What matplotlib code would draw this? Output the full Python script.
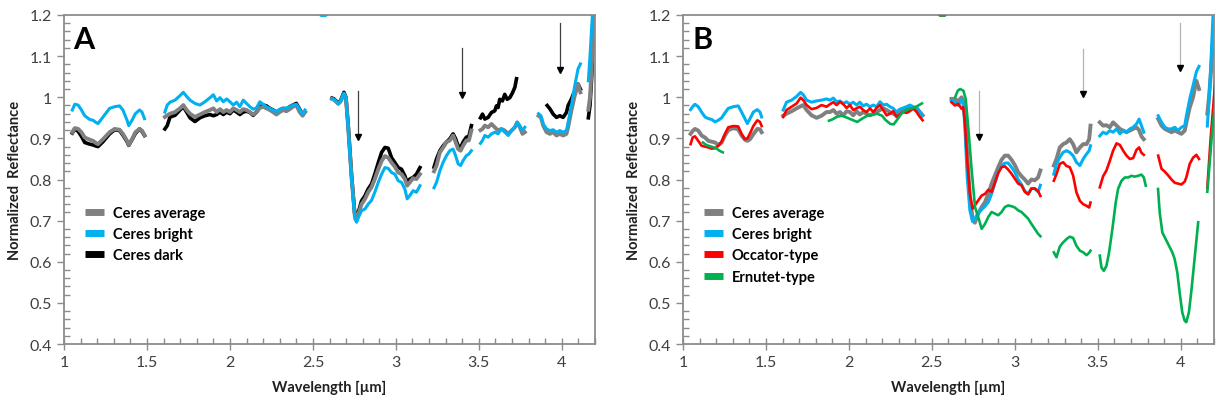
import matplotlib.pyplot as plt
from matplotlib.ticker import MultipleLocator, FormatStrFormatter

plt.rcParams['font.family'] = ['Lato', 'DejaVu Sans']

# ---------------- panel A : Ceres average / bright / dark ----------------
wl_a1 = [1.05, 1.065, 1.085, 1.105, 1.125, 1.155, 1.175, 1.195, 1.205, 1.235, 1.275,
         1.305, 1.335, 1.355, 1.38, 1.39, 1.41, 1.43, 1.455, 1.47, 1.485]
bright_a1 = [0.969, 0.983, 0.981, 0.969, 0.955, 0.946, 0.944, 0.938, 0.936, 0.952, 0.973,
             0.977, 0.979, 0.969, 0.944, 0.931, 0.944, 0.960, 0.969, 0.964, 0.948]
avg_a1 = [0.915, 0.925, 0.923, 0.915, 0.902, 0.897, 0.894, 0.888, 0.886, 0.898, 0.915,
          0.923, 0.921, 0.911, 0.894, 0.884, 0.898, 0.915, 0.923, 0.919, 0.908]
dark_a1 = [0.913, 0.923, 0.917, 0.905, 0.890, 0.886, 0.884, 0.881, 0.880, 0.892, 0.911,
           0.921, 0.919, 0.908, 0.892, 0.883, 0.897, 0.912, 0.923, 0.917, 0.907]

wl_a2 = [1.608, 1.622, 1.639, 1.669, 1.699, 1.719, 1.739, 1.759, 1.789, 1.819, 1.849,
         1.88, 1.9, 1.92, 1.94, 1.96, 1.98, 2.0, 2.02, 2.04, 2.06, 2.08, 2.1, 2.12, 2.14,
         2.16, 2.18, 2.2, 2.22, 2.24, 2.26, 2.28, 2.3, 2.32, 2.34, 2.36, 2.38, 2.4, 2.42,
         2.438, 2.452]
bright_a2 = [0.964, 0.981, 0.988, 0.993, 1.004, 1.012, 1.002, 0.993, 0.985, 0.981, 0.989,
             0.999, 1.006, 0.991, 0.999, 0.989, 0.996, 0.989, 0.981, 0.988, 0.977, 0.993,
             0.985, 0.977, 0.971, 0.974, 0.989, 0.983, 0.977, 0.973, 0.969, 0.964, 0.971,
             0.973, 0.974, 0.977, 0.981, 0.983, 0.971, 0.958, 0.969]
avg_a2 = [0.952, 0.956, 0.960, 0.964, 0.973, 0.981, 0.969, 0.960, 0.952, 0.958, 0.964,
          0.969, 0.973, 0.964, 0.971, 0.964, 0.969, 0.964, 0.973, 0.969, 0.964, 0.971,
          0.969, 0.964, 0.958, 0.964, 0.974, 0.977, 0.973, 0.969, 0.964, 0.958, 0.964,
          0.969, 0.966, 0.971, 0.977, 0.981, 0.964, 0.955, 0.964]
dark_a2 = [0.923, 0.931, 0.952, 0.956, 0.969, 0.977, 0.964, 0.950, 0.941, 0.950, 0.955,
           0.958, 0.955, 0.958, 0.964, 0.958, 0.964, 0.960, 0.969, 0.964, 0.958, 0.964,
           0.966, 0.963, 0.956, 0.964, 0.976, 0.981, 0.979, 0.973, 0.969, 0.964, 0.969,
           0.973, 0.971, 0.977, 0.981, 0.985, 0.971, 0.958, 0.964]

wl_a3 = [2.615, 2.627, 2.653, 2.667, 2.687, 2.699, 2.713, 2.733, 2.753, 2.763, 2.779,
         2.793, 2.813, 2.833, 2.853, 2.873, 2.894, 2.914, 2.934, 2.954, 2.974, 2.994,
         3.014, 3.034, 3.054, 3.068, 3.084, 3.104, 3.124, 3.145]
bright_a3 = [0.996, 0.994, 0.984, 0.990, 1.010, 1.0, 0.923, 0.801, 0.704, 0.696, 0.712,
             0.724, 0.728, 0.740, 0.749, 0.769, 0.793, 0.813, 0.829, 0.827, 0.817, 0.813,
             0.797, 0.793, 0.777, 0.753, 0.761, 0.773, 0.769, 0.785]
avg_a3 = [0.996, 0.994, 0.984, 0.990, 1.008, 0.998, 0.925, 0.805, 0.71, 0.705, 0.722,
          0.74, 0.752, 0.769, 0.781, 0.801, 0.825, 0.845, 0.857, 0.853, 0.841, 0.831,
          0.817, 0.813, 0.801, 0.785, 0.793, 0.803, 0.801, 0.813]
dark_a3 = [0.998, 0.996, 0.986, 0.992, 1.012, 1.0, 0.93, 0.81, 0.712, 0.71, 0.728,
           0.748, 0.76, 0.777, 0.789, 0.813, 0.841, 0.866, 0.878, 0.876, 0.853, 0.841,
           0.829, 0.825, 0.809, 0.793, 0.801, 0.805, 0.813, 0.829]

wl_a4 = [3.23, 3.245, 3.265, 3.285, 3.305, 3.325, 3.345, 3.36, 3.375, 3.39, 3.405,
         3.425, 3.44, 3.455]
bright_a4 = [0.78, 0.793, 0.821, 0.842, 0.858, 0.87, 0.874, 0.858, 0.838, 0.834, 0.846,
             0.858, 0.862, 0.87]
avg_a4 = [0.82, 0.834, 0.866, 0.878, 0.891, 0.895, 0.907, 0.891, 0.874, 0.870, 0.882,
          0.895, 0.895, 0.919]
dark_a4 = [0.83, 0.85, 0.87, 0.882, 0.891, 0.899, 0.911, 0.899, 0.882, 0.878, 0.891,
           0.903, 0.905, 0.931]

wl_a5 = [3.51, 3.522, 3.536, 3.556, 3.576, 3.596, 3.616, 3.636, 3.656, 3.677, 3.697,
         3.717, 3.731, 3.747, 3.763, 3.777]
bright_a5 = [0.888, 0.895, 0.907, 0.903, 0.911, 0.915, 0.911, 0.923, 0.915, 0.907, 0.919,
             0.927, 0.939, 0.931, 0.919, 0.927]
avg_a5 = [0.92, 0.923, 0.931, 0.927, 0.935, 0.927, 0.919, 0.923, 0.919, 0.911, 0.919,
          0.927, 0.939, 0.927, 0.911, 0.915]
wl_dark_a5 = [3.51, 3.522, 3.536, 3.556, 3.576, 3.596, 3.606, 3.616, 3.626, 3.642, 3.656,
              3.671, 3.687, 3.703, 3.717, 3.727]
dark_a5 = [0.95, 0.959, 0.947, 0.951, 0.963, 0.967, 0.979, 0.975, 0.995, 0.991, 1.007,
           0.995, 0.999, 1.011, 1.024, 1.045]

wl_a6 = [3.86, 3.874, 3.888, 3.908, 3.928, 3.948, 3.968, 3.988, 4.008, 4.028, 4.038,
         4.058, 4.078, 4.098, 4.112]
bright_a6 = [0.96, 0.955, 0.935, 0.923, 0.919, 0.921, 0.915, 0.919, 0.915, 0.919, 0.939,
             0.98, 1.028, 1.069, 1.081]
avg_a6 = [0.955, 0.951, 0.931, 0.915, 0.911, 0.915, 0.907, 0.911, 0.907, 0.911, 0.927,
          0.968, 1.004, 1.032, 1.012]
wl_dark_a6 = [3.912, 3.928, 3.948, 3.968, 3.988, 4.008, 4.028, 4.038, 4.058, 4.078,
              4.098, 4.112]
dark_a6 = [0.98, 0.972, 0.959, 0.951, 0.955, 0.951, 0.963, 0.98, 0.996, 1.016, 1.032,
           1.02]

wl_a7 = [4.16, 4.17, 4.18, 4.19, 4.2, 4.21]
bright_a7 = [1.04, 1.1, 1.17, 1.24, 1.31, 1.38]
avg_a7 = [0.97, 1.0, 1.07, 1.16, 1.24, 1.32]
dark_a7 = [0.95, 0.98, 1.05, 1.14, 1.22, 1.3]

# short excursion above the plotted range near 2.56 µm
wl_spike = [2.535, 2.548, 2.578, 2.59]
spike_r = [1.25, 1.199, 1.199, 1.25]

# ---------------- panel B : adds Occator-type and Ernutet-type ----------------
wl_b1 = [1.046, 1.058, 1.072, 1.092, 1.112, 1.133, 1.153, 1.173, 1.193, 1.213, 1.233,
         1.253, 1.273, 1.303, 1.333, 1.353, 1.373, 1.388, 1.404, 1.424, 1.448, 1.464, 1.474]
bright_b1 = [0.97, 0.977, 0.983, 0.977, 0.964, 0.952, 0.948, 0.946, 0.94, 0.944, 0.95,
             0.962, 0.973, 0.977, 0.979, 0.964, 0.948, 0.936, 0.948, 0.964, 0.97, 0.964, 0.952]
avg_b1 = [0.911, 0.918, 0.923, 0.919, 0.907, 0.902, 0.894, 0.892, 0.89, 0.884, 0.89,
          0.907, 0.92, 0.925, 0.922, 0.907, 0.897, 0.894, 0.898, 0.91, 0.923, 0.922, 0.915]
occ_b1 = [0.886, 0.902, 0.905, 0.894, 0.882, 0.88, 0.878, 0.875, 0.876, 0.882, 0.892,
          0.911, 0.927, 0.93, 0.929, 0.911, 0.898, 0.9, 0.912, 0.93, 0.944, 0.94, 0.93]
wl_ern_b1 = [1.12, 1.14, 1.17, 1.2, 1.22, 1.24]
ern_b1 = [0.89, 0.884, 0.88, 0.876, 0.87, 0.866]

wl_b2 = [1.604, 1.624, 1.655, 1.685, 1.709, 1.725, 1.745, 1.775, 1.805, 1.835, 1.865,
         1.886, 1.906, 1.926, 1.946, 1.966, 1.986, 2.006, 2.026, 2.046, 2.066, 2.086,
         2.106, 2.127, 2.147, 2.167, 2.187, 2.207, 2.227, 2.247, 2.267, 2.287, 2.307,
         2.327, 2.347, 2.367, 2.388, 2.408, 2.428, 2.444]
bright_b2 = [0.969, 0.988, 0.993, 1.002, 1.012, 1.006, 0.993, 0.988, 0.991, 0.993, 0.996,
             0.993, 0.998, 0.989, 0.991, 0.985, 0.989, 0.983, 0.988, 0.981, 0.988, 0.979,
             0.983, 0.977, 0.981, 0.977, 0.989, 0.981, 0.983, 0.977, 0.973, 0.964, 0.971,
             0.974, 0.977, 0.981, 0.977, 0.973, 0.964, 0.956]
avg_b2 = [0.955, 0.960, 0.966, 0.973, 0.978, 0.981, 0.969, 0.956, 0.950, 0.955, 0.964,
          0.964, 0.969, 0.960, 0.964, 0.956, 0.966, 0.964, 0.956, 0.966, 0.958, 0.964,
          0.960, 0.956, 0.960, 0.964, 0.969, 0.973, 0.969, 0.964, 0.960, 0.956, 0.964,
          0.969, 0.969, 0.973, 0.973, 0.974, 0.964, 0.956]
occ_b2 = [0.952, 0.969, 0.977, 0.985, 0.999, 0.993, 0.981, 0.971, 0.974, 0.981, 0.977,
          0.983, 0.988, 0.981, 0.989, 0.983, 0.974, 0.981, 0.969, 0.973, 0.977, 0.969,
          0.964, 0.973, 0.964, 0.974, 0.981, 0.969, 0.956, 0.960, 0.966, 0.952, 0.958,
          0.964, 0.962, 0.966, 0.973, 0.964, 0.952, 0.944]
wl_ern_b2 = [1.88, 1.9, 1.93, 1.96, 1.99, 2.02, 2.05, 2.08, 2.11, 2.14, 2.17, 2.2, 2.22,
             2.25, 2.27, 2.29, 2.32, 2.35, 2.38, 2.41, 2.44]
ern_b2 = [0.943, 0.946, 0.953, 0.955, 0.95, 0.945, 0.94, 0.948, 0.955, 0.957, 0.96,
          0.955, 0.945, 0.935, 0.934, 0.945, 0.962, 0.97, 0.973, 0.978, 0.985]

wl_b3 = [2.618, 2.639, 2.659, 2.679, 2.689, 2.699, 2.713, 2.729, 2.745, 2.759, 2.779,
         2.8, 2.82, 2.84, 2.86, 2.88, 2.9, 2.92, 2.94, 2.96, 2.98, 3.0, 3.02, 3.04, 3.06,
         3.08, 3.1, 3.12, 3.14, 3.154]
bright_b3 = [0.992, 0.988, 0.98, 0.994, 0.985, 0.928, 0.806, 0.725, 0.698, 0.705, 0.718,
             0.727, 0.735, 0.745, 0.765, 0.792, 0.818, 0.833, 0.84, 0.84, 0.83, 0.818,
             0.8, 0.788, 0.772, 0.765, 0.778, 0.778, 0.77, 0.786]
avg_b3 = [0.996, 0.996, 0.99, 1.0, 0.99, 0.96, 0.86, 0.76, 0.705, 0.695, 0.717, 0.733,
          0.745, 0.765, 0.79, 0.81, 0.83, 0.848, 0.858, 0.858, 0.848, 0.835, 0.818,
          0.808, 0.8, 0.79, 0.8, 0.798, 0.805, 0.822]
occ_b3 = [0.988, 0.98, 0.984, 0.972, 0.976, 0.94, 0.846, 0.765, 0.729, 0.737, 0.749,
          0.761, 0.765, 0.775, 0.77, 0.792, 0.816, 0.83, 0.832, 0.824, 0.814, 0.802,
          0.79, 0.786, 0.77, 0.764, 0.778, 0.778, 0.772, 0.76]
wl_ern_b3 = [2.64, 2.656, 2.67, 2.69, 2.704, 2.72, 2.74, 2.76, 2.785, 2.8, 2.82, 2.84,
             2.86, 2.88, 2.9, 2.92, 2.94, 2.96, 2.98, 3.0, 3.02, 3.04, 3.06, 3.08, 3.1,
             3.12, 3.14, 3.154]
ern_b3 = [1.0, 1.016, 1.02, 1.016, 0.996, 0.923, 0.822, 0.733, 0.701, 0.68, 0.692, 0.709,
          0.721, 0.717, 0.713, 0.721, 0.733, 0.737, 0.735, 0.732, 0.725, 0.721, 0.713,
          0.705, 0.692, 0.68, 0.668, 0.662]

wl_b4 = [3.235, 3.251, 3.271, 3.291, 3.311, 3.331, 3.351, 3.371, 3.392, 3.412, 3.432,
         3.448, 3.456]
bright_b4 = [0.813, 0.838, 0.854, 0.866, 0.87, 0.866, 0.858, 0.842, 0.834, 0.85, 0.862,
             0.87, 0.882]
avg_b4 = [0.834, 0.85, 0.878, 0.886, 0.89, 0.898, 0.886, 0.866, 0.878, 0.886, 0.886,
          0.898, 0.931]
occ_b4 = [0.797, 0.813, 0.838, 0.842, 0.833, 0.83, 0.81, 0.769, 0.748, 0.74, 0.736,
          0.732, 0.744]
ern_b4 = [0.623, 0.611, 0.637, 0.647, 0.655, 0.661, 0.658, 0.639, 0.627, 0.623, 0.616,
          0.622, 0.627]

wl_b5 = [3.512, 3.532, 3.552, 3.572, 3.592, 3.613, 3.633, 3.653, 3.673, 3.693, 3.713,
         3.733, 3.749, 3.763, 3.777]
bright_b5 = [0.906, 0.915, 0.911, 0.919, 0.915, 0.923, 0.911, 0.919, 0.915, 0.923, 0.927,
             0.935, 0.947, 0.931, 0.915]
avg_b5 = [0.939, 0.931, 0.932, 0.927, 0.939, 0.931, 0.923, 0.919, 0.915, 0.919, 0.923,
          0.927, 0.92, 0.905, 0.898]
occ_b5 = [0.781, 0.808, 0.822, 0.845, 0.87, 0.888, 0.884, 0.87, 0.858, 0.85, 0.852,
          0.872, 0.878, 0.865, 0.86]
wl_ern_b5 = [3.512, 3.522, 3.536, 3.552, 3.568, 3.588, 3.608, 3.622, 3.643, 3.663, 3.683,
             3.703, 3.723, 3.743, 3.763, 3.777, 3.789]
ern_b5 = [0.615, 0.586, 0.578, 0.59, 0.623, 0.68, 0.744, 0.777, 0.797, 0.805, 0.805,
          0.809, 0.807, 0.809, 0.812, 0.805, 0.785]

wl_b6 = [3.864, 3.884, 3.904, 3.924, 3.944, 3.964, 3.984, 4.004, 4.024, 4.034, 4.054,
         4.074, 4.094, 4.11]
bright_b6 = [0.955, 0.939, 0.927, 0.923, 0.923, 0.927, 0.919, 0.927, 0.931, 0.955, 0.996,
             1.028, 1.062, 1.075]
avg_b6 = [0.947, 0.931, 0.923, 0.919, 0.915, 0.919, 0.915, 0.911, 0.919, 0.939, 0.975,
          1.0, 1.04, 1.02]
occ_b6 = [0.858, 0.826, 0.819, 0.81, 0.8, 0.792, 0.79, 0.788, 0.795, 0.806, 0.838,
          0.853, 0.86, 0.85]
wl_ern_b6 = [3.863, 3.873, 3.889, 3.909, 3.929, 3.949, 3.963, 3.979, 3.993, 4.009, 4.023,
             4.033, 4.049, 4.063, 4.077, 4.093, 4.105]
ern_b6 = [0.777, 0.72, 0.671, 0.655, 0.639, 0.623, 0.607, 0.574, 0.526, 0.477, 0.457,
          0.453, 0.477, 0.526, 0.582, 0.647, 0.696]

wl_b7 = [4.16, 4.17, 4.18, 4.19, 4.2, 4.21]
bright_b7 = [0.93, 0.99, 1.07, 1.16, 1.25, 1.33]
avg_b7 = [0.96, 1.0, 1.05, 1.11, 1.17, 1.23]
occ_b7 = [0.78, 0.84, 0.9, 0.95, 1.0, 1.05]
ern_b7 = [0.77, 0.82, 0.87, 0.92, 0.96, 1.0]

# band markers (wavelength, arrow top, arrow tip)
arrow_a_wl = [2.77, 3.40, 3.99]
arrow_a_top = [1.016, 1.119, 1.18]
arrow_a_tip = [0.898, 1.0, 1.061]
arrow_b_wl = [2.783, 3.408, 3.994]
arrow_b_top = [1.016, 1.117, 1.18]
arrow_b_tip = [0.898, 1.002, 1.065]

GRAY = '#808080'
BLUE = '#00b0f0'
BLACK = '#000000'
RED = '#ff0000'
GREEN = '#00b050'
FRAME = '#8c8c8c'
TXT = '#404040'


def draw(ax, wls, vals, color, lw, label, z):
    for i, (w, v) in enumerate(zip(wls, vals)):
        ax.plot(w, v, color=color, lw=lw, label=label if i == 0 else None,
                zorder=z, solid_joinstyle='round')


def style(ax, letter):
    ax.set_xlim(1, 4.2)
    ax.set_ylim(0.4, 1.2)
    ax.xaxis.set_major_locator(MultipleLocator(0.5))
    ax.xaxis.set_minor_locator(MultipleLocator(0.1))
    ax.yaxis.set_major_locator(MultipleLocator(0.1))
    ax.yaxis.set_minor_locator(MultipleLocator(0.02))
    ax.xaxis.set_major_formatter(FormatStrFormatter('%g'))
    ax.yaxis.set_major_formatter(FormatStrFormatter('%g'))
    ax.tick_params(axis='both', which='major', direction='out', length=5, width=1,
                   color=FRAME, labelsize=11.5, labelcolor=TXT)
    ax.tick_params(axis='both', which='minor', direction='in', length=4, width=1,
                   color=FRAME)
    ax.tick_params(axis='x', which='major', direction='inout', length=8, pad=4)
    for s in ax.spines.values():
        s.set_color(FRAME)
        s.set_linewidth(1.3)
    ax.set_xlabel('Wavelength [µm]', fontsize=10.5, fontweight='bold', color='#202020')
    ax.set_ylabel('Normalized  Reflectance', fontsize=10.5, fontweight='bold', color='#202020')
    ax.xaxis.set_label_coords(0.5, -0.11)
    ax.yaxis.set_label_coords(-0.08, 0.5)
    ax.text(0.018, 0.9, letter, transform=ax.transAxes, fontsize=22, fontweight='bold',
            va='baseline', ha='left', color='black')


def arrows(ax, wl, top, tip, line_color):
    for w, t, p in zip(wl, top, tip):
        ax.plot([w, w], [t, p + 0.01], color=line_color, lw=0.9, zorder=6)
        ax.plot(w, p + 0.006, marker='v', ms=4.5, color='black', mec='black', zorder=7)


def legend(ax, handles=None, labels=None):
    kw = dict(loc='upper left', bbox_to_anchor=(0.04, 0.42), frameon=False,
              borderpad=0, borderaxespad=0, handlelength=1.3, handletextpad=0.6,
              labelspacing=0.5, prop={'size': 10.5, 'weight': 'bold'})
    if handles is None:
        leg = ax.legend(**kw)
    else:
        leg = ax.legend(handles, labels, **kw)
    for ln in leg.get_lines():
        ln.set_linewidth(5)
        ln.set_solid_capstyle('butt')


fig = plt.figure(figsize=(12.17, 4.06), dpi=100)
ax_a = fig.add_axes([0.0526, 0.1502, 0.4363, 0.8104])
ax_b = fig.add_axes([0.5612, 0.1502, 0.4363, 0.8104])

# panel A
draw(ax_a, [wl_a1, wl_a2, wl_a3, wl_a4, wl_dark_a5, wl_dark_a6, wl_a7],
     [dark_a1, dark_a2, dark_a3, dark_a4, dark_a5, dark_a6, dark_a7],
     BLACK, 2.6, 'Ceres dark', 1)
draw(ax_a, [wl_a1, wl_a2, wl_a3, wl_a4, wl_a5, wl_a6, wl_a7],
     [avg_a1, avg_a2, avg_a3, avg_a4, avg_a5, avg_a6, avg_a7],
     GRAY, 2.8, 'Ceres average', 2)
draw(ax_a, [wl_a1, wl_a2, wl_spike, wl_a3, wl_a4, wl_a5, wl_a6, wl_a7],
     [bright_a1, bright_a2, spike_r, bright_a3, bright_a4, bright_a5, bright_a6, bright_a7],
     BLUE, 2.2, 'Ceres bright', 3)
arrows(ax_a, arrow_a_wl, arrow_a_top, arrow_a_tip, '#404040')
style(ax_a, 'A')
h, l = ax_a.get_legend_handles_labels()
order = [l.index('Ceres average'), l.index('Ceres bright'), l.index('Ceres dark')]
legend(ax_a, [h[i] for i in order], [l[i] for i in order])

# panel B
draw(ax_b, [wl_b1, wl_b2, wl_b3, wl_b4, wl_b5, wl_b6, wl_b7],
     [avg_b1, avg_b2, avg_b3, avg_b4, avg_b5, avg_b6, avg_b7],
     GRAY, 2.8, 'Ceres average', 1)
draw(ax_b, [wl_b1, wl_b2, wl_b3, wl_b4, wl_b5, wl_b6, wl_b7],
     [bright_b1, bright_b2, bright_b3, bright_b4, bright_b5, bright_b6, bright_b7],
     BLUE, 2.2, 'Ceres bright', 2)
draw(ax_b, [wl_b1, wl_b2, wl_spike, wl_b3, wl_b4, wl_b5, wl_b6, wl_b7],
     [occ_b1, occ_b2, spike_r, occ_b3, occ_b4, occ_b5, occ_b6, occ_b7],
     RED, 1.9, 'Occator-type', 3)
draw(ax_b, [wl_ern_b1, wl_ern_b2, wl_spike, wl_ern_b3, wl_b4, wl_ern_b5, wl_ern_b6, wl_b7],
     [ern_b1, ern_b2, spike_r, ern_b3, ern_b4, ern_b5, ern_b6, ern_b7],
     GREEN, 1.9, 'Ernutet-type', 4)
arrows(ax_b, arrow_b_wl, arrow_b_top, arrow_b_tip, '#b4b4b4')
style(ax_b, 'B')
legend(ax_b)

fig.savefig('out.png', dpi=100)
